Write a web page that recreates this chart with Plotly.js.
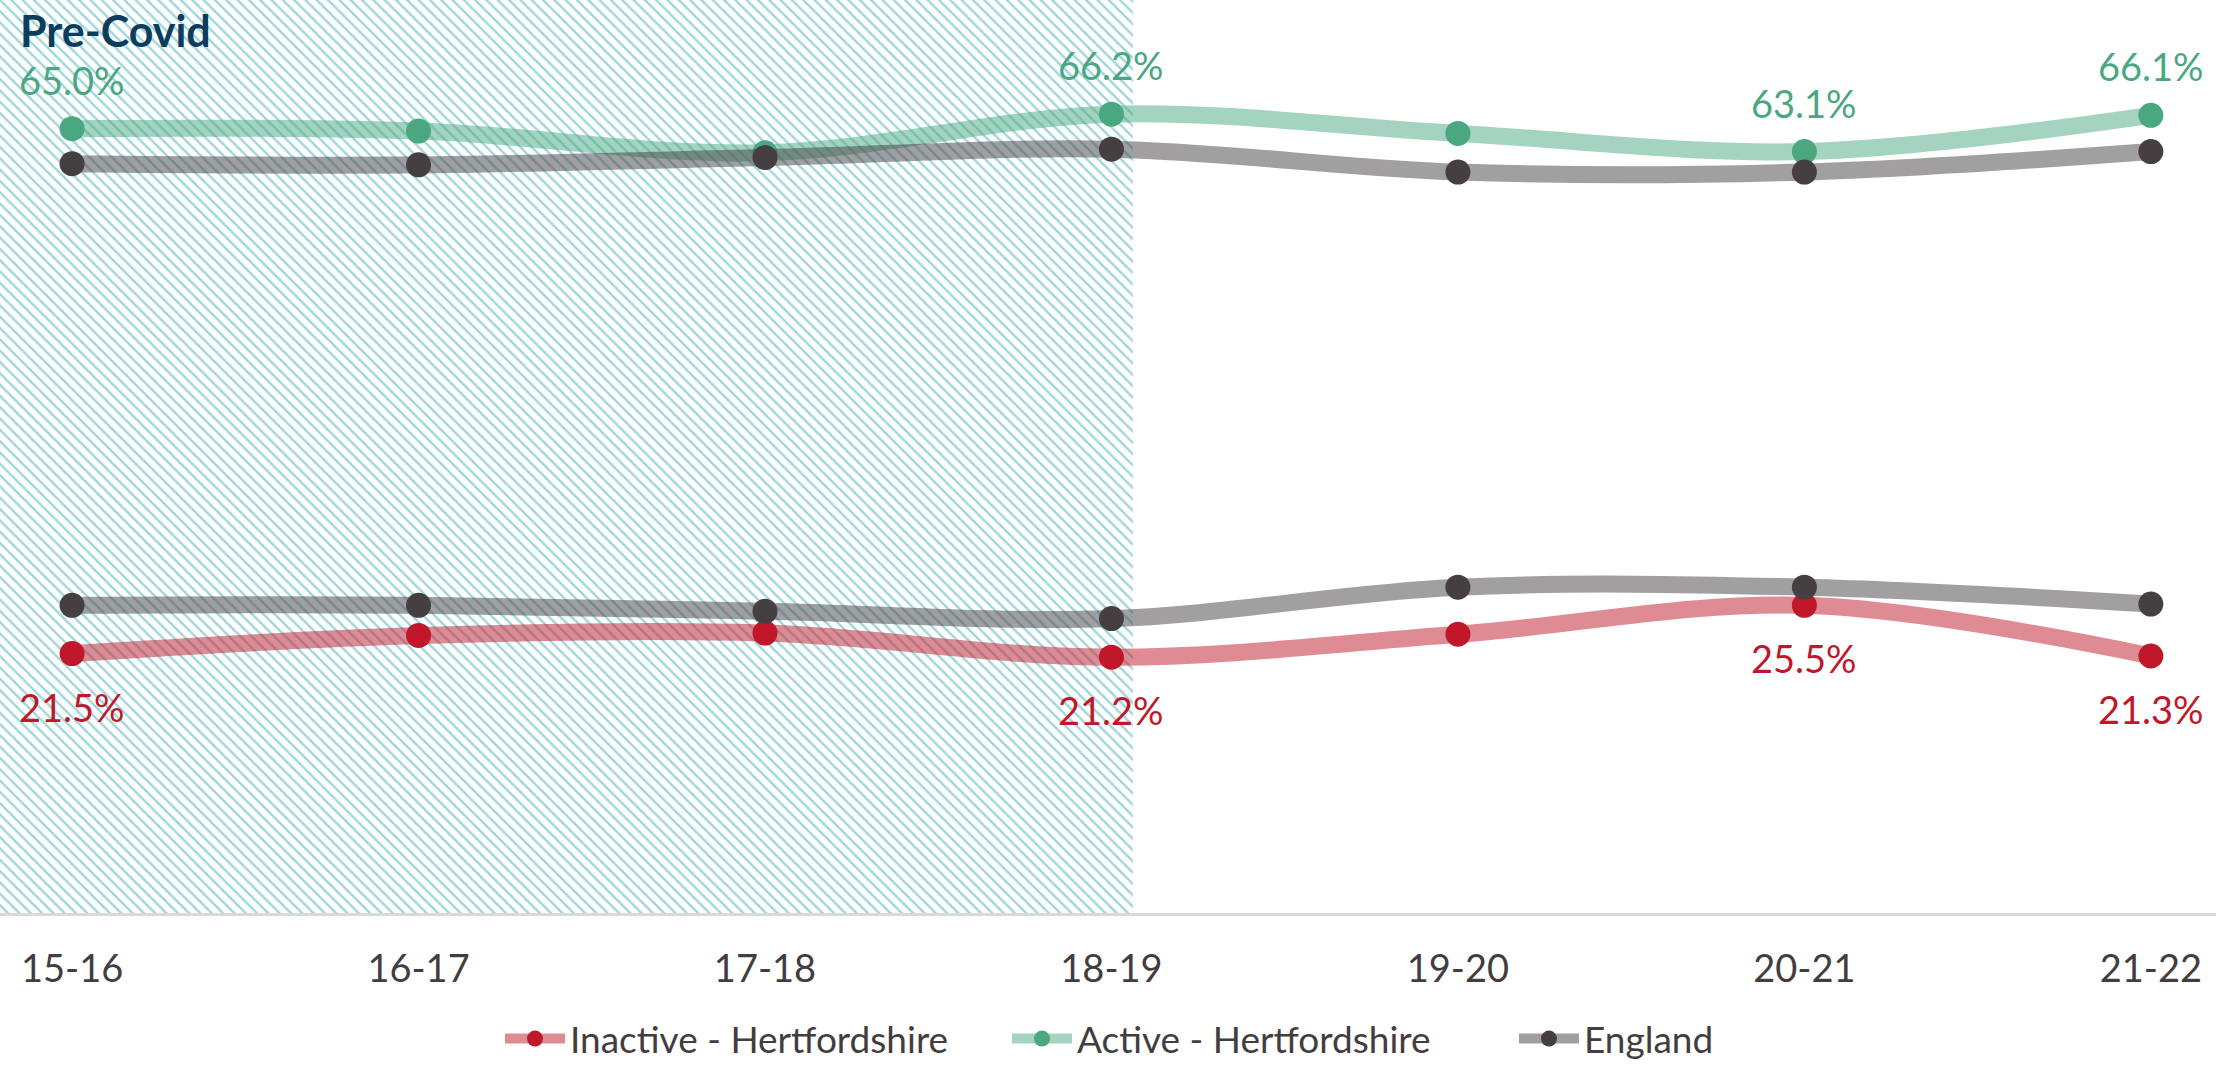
<!DOCTYPE html>
<html>
<head>
<meta charset="utf-8">
<script src="https://cdn.plot.ly/plotly-3.0.1.min.js"></script>
<style>html,body{margin:0;padding:0;background:#fff;}#chart{width:2216px;height:1067px;}</style>
</head>
<body>
<div id="chart"></div>
<script>
// ---- data ----
const categories = ['15-16','16-17','17-18','18-19','19-20','20-21','21-22'];
const activeHerts = [65.0, 64.8, 63.0, 66.2, 64.6, 63.1, 66.1];
const englandActive = [62.1, 62.0, 62.6, 63.3, 61.4, 61.4, 63.1];
const inactiveHerts = [21.5, 23.0, 23.2, 21.2, 23.1, 25.5, 21.3];
const englandInactive = [25.5, 25.5, 25.0, 24.4, 27.0, 27.0, 25.6];
const labelledPoints = [true, false, false, true, false, true, true];
const preCovidStart = '15-16';
const preCovidEnd = '18-19';
const yMax = 75.66;

// ---- styles ----
const FONT = 'Lato, "Open Sans", sans-serif';
const TEXT_GREY = '#433d3f';
const RED = '#c0172a', GREEN = '#4aa77f', DARK = '#463f41';
function rgba(hex, a){
  const n = parseInt(hex.slice(1),16);
  return 'rgba(' + ((n>>16)&255) + ',' + ((n>>8)&255) + ',' + (n&255) + ',' + a + ')';
}

const startIdx = categories.indexOf(preCovidStart);
const endIdx = categories.indexOf(preCovidEnd);
const leftPad = 0.208, rightPad = 0.062;

function lineTrace(name, vals, color, extra){
  return Object.assign({
    type:'scatter', mode:'lines+markers', name:name,
    x:categories, y:vals,
    line:{color:rgba(color,0.5), width:17, shape:'spline', smoothing:1},
    marker:{color:color, size:25}, cliponaxis:false, hoverinfo:'skip'
  }, extra || {});
}

const traces = [
  {
    type:'bar', x:[preCovidStart], y:[yMax], base:0,
    width:[endIdx - startIdx + leftPad + rightPad], offset:[-leftPad],
    marker:{color:'white', line:{width:0},
      pattern:{shape:'\\', fgcolor:'#9fd6db', bgcolor:'white', size:8, solidity:0.3}},
    showlegend:false, hoverinfo:'skip'
  },
  lineTrace('Inactive - Hertfordshire', inactiveHerts, RED),
  lineTrace('Active - Hertfordshire', activeHerts, GREEN),
  lineTrace('England', englandInactive, DARK, {legendgroup:'eng'}),
  lineTrace('England', englandActive, DARK, {legendgroup:'eng', showlegend:false})
];

const annotations = [{
  xref:'paper', yref:'paper', x:18/2216, y:1-30/913, xanchor:'left', yanchor:'middle',
  text:'<b>Pre-Covid</b>', showarrow:false,
  font:{family:FONT, size:43, color:'#0c3c5e'}
}];
categories.forEach((c,i)=>{
  if(!labelledPoints[i]) return;
  annotations.push({x:c, y:activeHerts[i], xref:'x', yref:'y', yshift:49, yanchor:'middle',
    text:activeHerts[i].toFixed(1)+'%', showarrow:false,
    font:{family:FONT, size:38, color:GREEN}});
  annotations.push({x:c, y:inactiveHerts[i], xref:'x', yref:'y', yshift:-53, yanchor:'middle',
    text:inactiveHerts[i].toFixed(1)+'%', showarrow:false,
    font:{family:FONT, size:38, color:RED}});
});

const layout = {
  width:2216, height:1067,
  margin:{l:0, r:0, t:0, b:154, pad:0, autoexpand:false},
  paper_bgcolor:'white', plot_bgcolor:'white',
  font:{family:FONT, color:TEXT_GREY},
  showlegend:true,
  legend:{orientation:'h', x:500/2216, xanchor:'left', y:-0.138, yanchor:'middle',
    font:{family:FONT, size:37, color:TEXT_GREY}, itemwidth:60, traceorder:'normal',
    entrywidth:432, entrywidthmode:'pixels'},
  xaxis:{type:'category', categoryarray:categories, range:[-leftPad, categories.length-1+0.188],
    showgrid:false, zeroline:false, showline:true, linecolor:'#d9d9d9', linewidth:3,
    ticks:'', ticklabelstandoff:20, tickfont:{family:FONT, size:38, color:TEXT_GREY}, fixedrange:true},
  yaxis:{range:[0, yMax], visible:false, showgrid:false, zeroline:false, fixedrange:true},
  annotations:annotations
};

Plotly.newPlot('chart', traces, layout, {displayModeBar:false, staticPlot:true});
</script>
</body>
</html>
